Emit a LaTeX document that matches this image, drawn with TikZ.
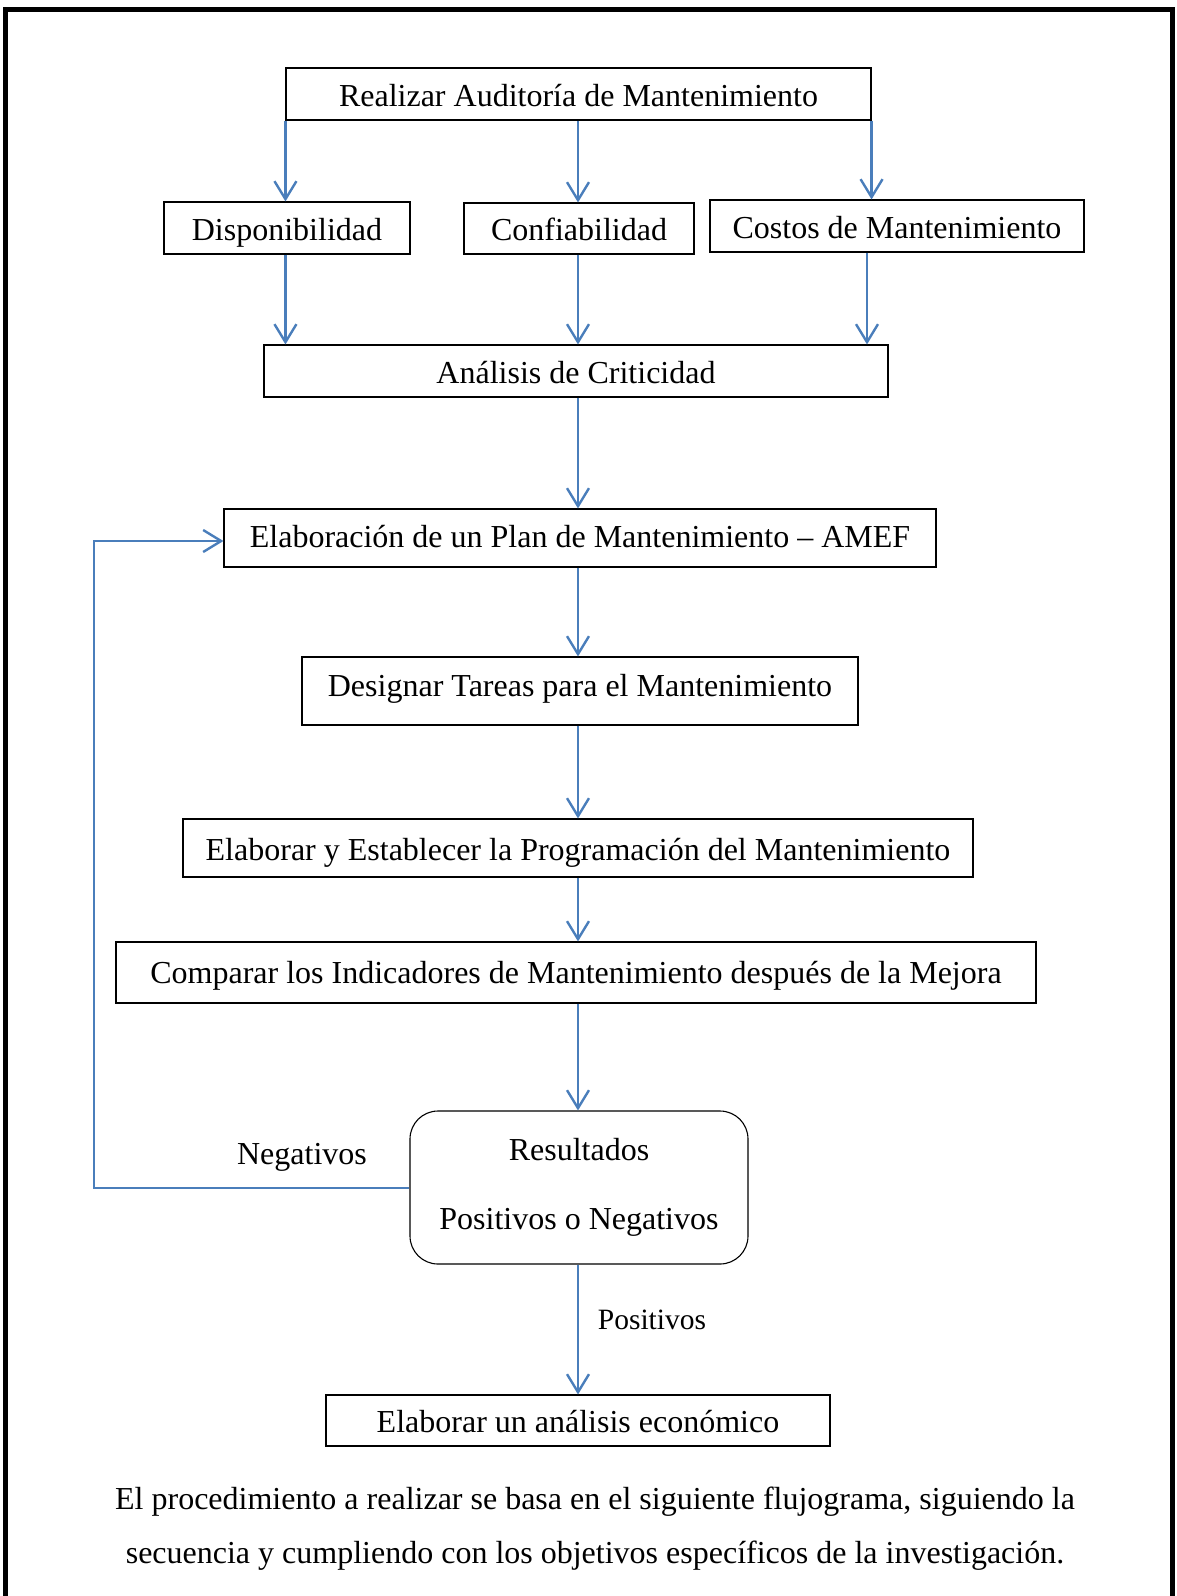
\documentclass[tikz,border=0pt]{standalone}
\usepackage{fontspec}
\setmainfont{Liberation Serif}
\usetikzlibrary{arrows.meta, positioning, calc}

\definecolor{flowblue}{RGB}{74,126,187}

\tikzset{
    caja/.style={draw=black, line width=1.1pt, inner sep=0pt,
        text height=26pt, text depth=2pt,
        font=\fontsize{32}{38}\selectfont},
    flecha/.style={draw=flowblue, line width=2.4pt,
        -{Straight Barb[length=18pt, width=22pt, line width=2.4pt]}},
}

\begin{document}
\begin{tikzpicture}[x=1pt, y=-1pt]
    \useasboundingbox (0,0) rectangle (1176,1596);

    % marco (sin borde inferior)
    \draw[line width=5pt] (5.5,1596) -- (5.5,9.5) -- (1172,9.5) -- (1172,1596);

    \pgfmathsetmacro{\xc}{578}

    % cajas
    \node[caja, minimum width=585pt, minimum height=52pt] (audit) at (578.5,94) {Realizar Auditoría de Mantenimiento};
    \node[caja, minimum width=246pt, minimum height=52pt] (disp) at (287,228) {Disponibilidad};
    \node[caja, minimum width=230pt, minimum height=51pt] (conf) at (579,228.5) {Confiabilidad};
    \node[caja, minimum width=374pt, minimum height=52pt] (cost) at (897,226) {Costos de Mantenimiento};
    \node[caja, minimum width=624pt, minimum height=52pt] (crit) at (576,371) {Análisis de Criticidad};
    \node[caja, text depth=7pt, minimum width=712pt, minimum height=58pt] (amef) at (580,538) {Elaboración de un Plan de Mantenimiento -- AMEF};
    \node[caja, text depth=16pt, minimum width=556pt, minimum height=68pt] (tareas) at (580,691) {Designar Tareas para el Mantenimiento};
    \node[caja, minimum width=790pt, minimum height=58pt] (prog) at (578,848) {Elaborar y Establecer la Programación del Mantenimiento};
    \node[caja, text depth=5pt, minimum width=920pt, minimum height=61pt] (comp) at (576,972.5) {Comparar los Indicadores de Mantenimiento después de la Mejora};
    \node[caja, text height=, text depth=, rounded corners=28pt, minimum width=338pt, minimum height=153pt, align=center]
        (res) at (579,1187.5) {Resultados\\[31pt]Positivos o Negativos};
    \node[caja, minimum width=504pt, minimum height=51pt] (econ) at (578,1420.5) {Elaborar un análisis económico};

    % flechas
    \draw[flecha] (audit.south west) -- (audit.south west |- disp.north);
    \draw[flecha] (audit.south -| \xc,0) -- (conf.north -| \xc,0);
    \draw[flecha] (audit.south east) -- (audit.south east |- cost.north);
    \draw[flecha] (disp.south -| audit.south west) -- (crit.north -| audit.south west);
    \draw[flecha] (conf.south -| \xc,0) -- (crit.north -| \xc,0);
    \draw[flecha] (cost.south -| 867,0) -- (crit.north -| 867,0);
    \draw[flecha] (crit.south -| \xc,0) -- (amef.north -| \xc,0);
    \draw[flecha] (amef.south -| \xc,0) -- (tareas.north -| \xc,0);
    \draw[flecha] (tareas.south -| \xc,0) -- (prog.north -| \xc,0);
    \draw[flecha] (prog.south -| \xc,0) -- (comp.north -| \xc,0);
    \draw[flecha] (comp.south -| \xc,0) -- (res.north -| \xc,0);
    \draw[flecha] (res.south -| \xc,0) -- (econ.north -| \xc,0);

    % retorno negativo
    \coordinate (esq1) at (94,1188);
    \coordinate (esq2) at (94,541);
    \draw[flecha] (res.west |- esq1) -- (esq1) -- (esq2) -- (amef.west |- esq2);

    \node[font=\fontsize{32}{38}\selectfont] (neg) at (302,1157) {Negativos};
    \node[font=\fontsize{29.5}{35}\selectfont] (pos) at (652,1320) {Positivos};

    % texto final
    \node[font=\fontsize{32}{54}\selectfont, align=center] (nota) at (595,1529)
        {El procedimiento a realizar se basa en el siguiente flujograma, siguiendo la\\
         secuencia y cumpliendo con los objetivos específicos de la investigación.};
\end{tikzpicture}
\end{document}
